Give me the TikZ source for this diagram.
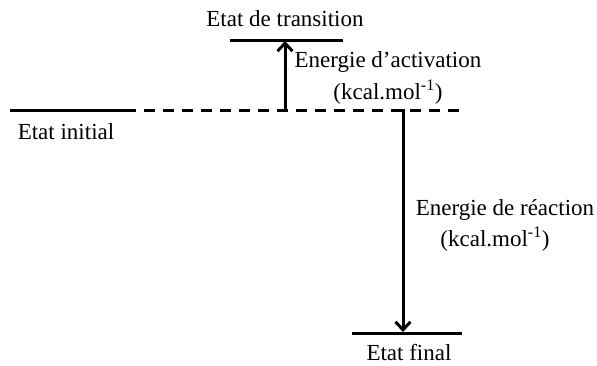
\documentclass[tikz,border=0pt]{standalone}
\usepackage{fontspec}
\setmainfont{Liberation Serif}
\usetikzlibrary{arrows.meta}
\tikzset{
  level/.style={line width=3pt},
  dashlevel/.style={line width=3pt, dash pattern=on 11pt off 8pt},
  energy/.style={line width=3pt, -{Straight Barb[length=8pt,width=15pt,line width=3pt]}},
  lbl/.style={font=\fontsize{23}{26}\selectfont, inner sep=0pt, align=center}
}
\begin{document}
\begin{tikzpicture}[x=1pt,y=-1pt]
\useasboundingbox (0,0) rectangle (597,365);
% levels
\coordinate (i0) at (10,110);
\coordinate (i1) at (125,110);
\coordinate (d1) at (462,110);
\draw[level] (i0) -- (i1);
\draw[dashlevel] (i1) -- (d1);
\coordinate (t0) at (230,40);
\coordinate (t1) at (343,40);
\draw[level] (t0) -- (t1);
\coordinate (f0) at (352,333);
\coordinate (f1) at (462,333);
\draw[level] (f0) -- (f1);
% arrows
\coordinate (a0) at (285,111);
\coordinate (a1) at (285,41);
\draw[energy] (a0) -- (a1);
\coordinate (b0) at (403,109);
\coordinate (b1) at (403,332);
\draw[energy] (b0) -- (b1);
% labels
\node[lbl] (ts) at (285,19) {Etat de transition};
\node[lbl] (ea) at (388,62) {Energie d’activation};
\node[lbl] (eau) at (388,92) {(kcal.mol\textsuperscript{-1})};
\node[lbl] (ini) at (66,132) {Etat initial};
\node[lbl] (er) at (505,210) {Energie de réaction};
\node[lbl] (eru) at (495,239) {(kcal.mol\textsuperscript{-1})};
\node[lbl] (fin) at (409,353) {Etat final};
\end{tikzpicture}
\end{document}
